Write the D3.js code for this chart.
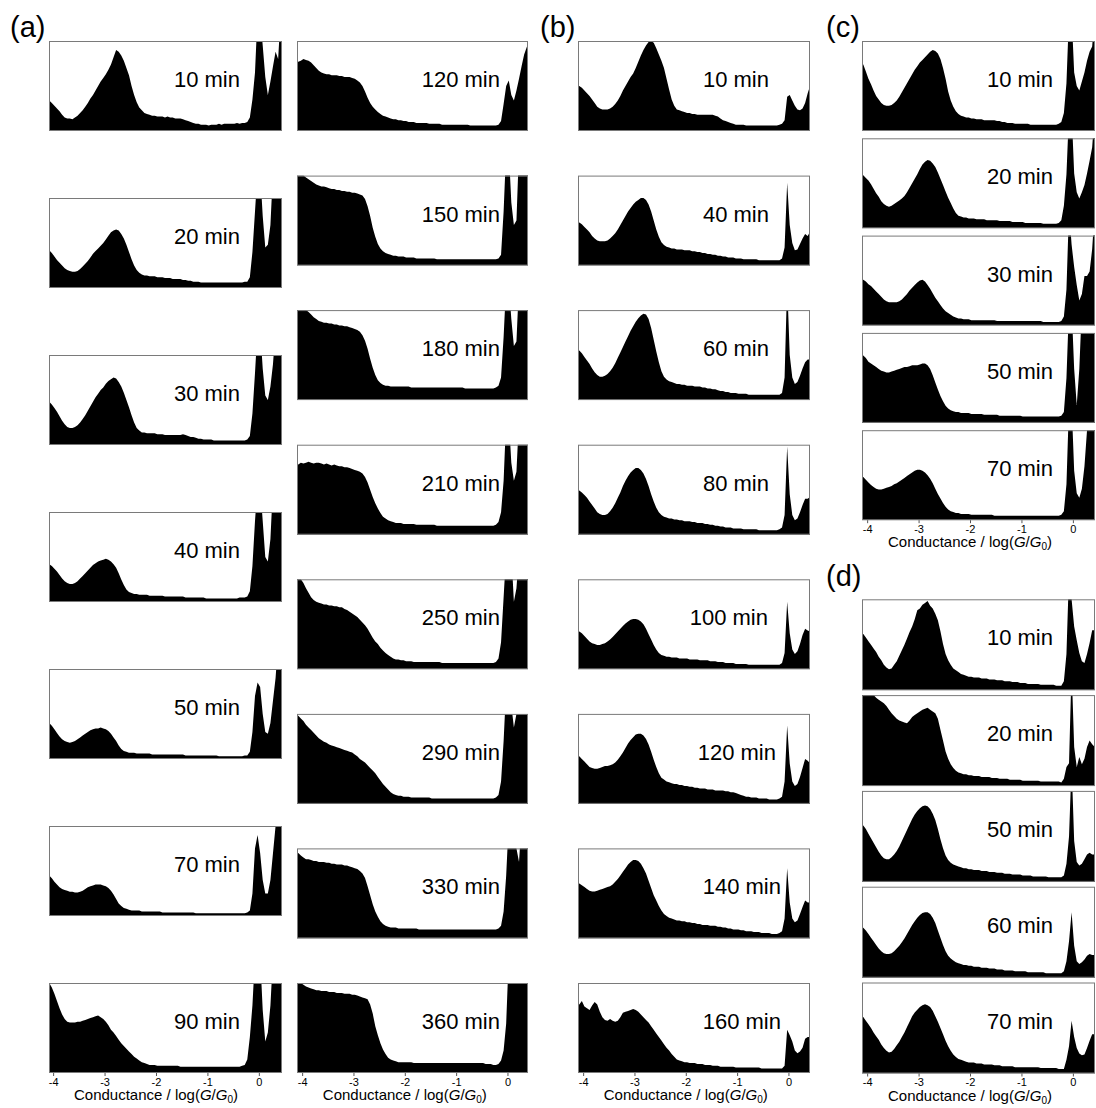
<!DOCTYPE html>
<html><head><meta charset="utf-8">
<script src="https://cdn.jsdelivr.net/npm/d3@7"></script>
<style>
body{margin:0;background:#fff}
svg{display:block}
text{font-family:"Liberation Sans",Arial,Helvetica,sans-serif;fill:#000}
</style>
</head><body>
<svg id="fig" width="1096" height="1108"></svg>
<script>
// Conductance histograms: bins of 0.05 in log(G/G0), first bin starting at -4.10.
// Values are counts scaled so that 100 reaches the top of a panel (larger values are clipped).
const binStart = -4.10, binWidth = 0.05;
const tickValues = [-4, -3, -2, -1, 0];

// (a) left column
const a10 = [34,31,28,25,22,18,15,14,14,13, 15,17,20,23,27,31,36,40,45,50, 55,59,63,68,74,82,90,88,84,78, 70,62,50,40,32,26,23,20,19,18, 17,17,16,16,16,15,16,15,15,14, 14,14,13,12,11,10,9,8,8,7, 7,7,6,7,7,7,8,7,8,8, 8,8,8,9,8,9,9,10,15,35, 65,130,130,95,60,40,55,72,88,80, 130];
const a20 = [42,39,35,31,28,25,22,20,19,18, 18,19,21,24,27,30,34,38,41,44, 47,50,54,58,62,64,65,64,60,55, 48,40,32,25,20,17,15,14,14,13, 13,13,12,12,12,11,11,11,10,10, 10,10,9,9,8,8,7,7,7,6, 6,6,6,6,6,6,6,6,6,6, 6,6,6,6,6,6,7,7,12,40, 85,130,130,80,45,48,70,130,110,130, 130];
const a30 = [48,45,41,37,32,27,23,20,19,19, 20,22,25,29,33,38,43,48,53,57, 61,64,68,71,73,75,74,70,65,58, 50,42,33,25,19,16,14,14,13,13, 13,13,12,12,12,11,11,11,11,11, 11,11,12,11,10,9,9,8,7,7, 6,6,6,6,5,5,5,5,5,5, 5,5,5,5,5,5,5,6,10,35, 80,130,130,85,55,50,65,90,130,130, 130];
const a40 = [42,40,37,34,30,26,23,21,20,20, 21,23,26,29,32,35,38,41,43,45, 46,47,48,47,45,42,38,32,25,19, 14,11,10,9,9,8,8,8,8,7, 7,7,7,7,7,6,6,6,6,6, 6,6,6,5,5,5,5,5,5,5, 5,4,4,4,4,4,4,4,4,4, 4,4,4,4,5,5,5,6,12,40, 90,130,130,90,50,45,70,130,100,130, 130];
const a50 = [40,37,33,29,25,22,20,19,18,19, 20,22,24,26,28,30,32,33,34,34, 35,34,33,31,28,24,20,15,11,9, 8,7,7,7,6,6,6,6,6,6, 5,5,5,5,5,5,5,5,5,5, 5,5,5,4,4,4,4,4,4,4, 4,4,4,4,4,4,3,3,3,3, 3,3,3,3,3,3,4,4,8,30, 70,85,80,50,30,28,40,65,90,130, 130];
const a70 = [45,42,38,35,32,30,29,28,27,27, 26,26,27,28,30,32,33,34,35,35, 35,34,33,31,28,24,19,14,11,9, 8,7,6,6,6,6,5,5,5,5, 5,5,5,5,4,4,4,4,4,4, 4,4,4,4,4,4,4,3,3,3, 3,3,3,3,3,3,3,3,3,3, 3,3,3,3,3,3,3,4,6,25, 75,90,70,40,25,25,40,70,100,130, 130];
const a90 = [100,95,88,80,72,65,60,57,56,56, 56,57,57,58,59,60,61,62,63,64, 62,60,57,53,48,45,41,37,33,30, 27,24,21,18,16,14,12,11,10,9, 9,9,8,8,8,8,8,8,8,8, 8,7,7,7,7,7,7,7,7,7, 7,7,7,7,7,7,7,7,7,7, 7,7,7,7,7,8,9,15,40,75, 130,130,130,70,35,45,75,130,130,130, 130];

// (a) right column
const a120 = [77,78,80,79,78,76,73,70,67,65, 64,63,63,62,62,62,61,61,60,60, 60,59,58,56,54,50,44,37,31,27, 24,21,19,17,16,15,14,13,13,12, 12,11,11,10,10,10,9,9,9,9, 9,8,8,8,8,8,7,7,7,7, 7,7,7,7,7,7,7,6,6,6, 6,6,6,6,6,6,6,6,7,11, 30,50,56,40,34,45,58,72,85,93, 100];
const a150 = [100,100,100,98,96,94,92,90,89,88, 88,87,86,85,85,84,84,83,83,82, 82,81,81,80,79,78,74,66,55,42, 32,24,19,16,14,13,12,11,11,10, 10,10,9,9,9,9,8,8,8,8, 8,8,8,8,7,7,7,7,7,7, 7,7,7,7,7,7,7,7,7,7, 7,7,7,7,7,7,7,7,8,12, 60,130,130,70,45,50,130,130,130,130, 130];
const a180 = [100,100,100,100,98,95,92,90,88,87, 86,86,85,85,84,84,83,83,82,82, 81,80,79,78,76,72,66,57,46,36, 28,22,19,17,16,16,15,15,15,15, 15,15,15,15,14,14,14,14,14,14, 14,14,14,14,14,14,14,14,14,14, 14,14,14,14,14,13,13,13,13,13, 13,13,13,13,13,13,13,14,16,25, 70,130,130,90,60,65,130,130,130,130, 130];
const a210 = [78,80,79,80,81,80,79,80,80,79, 78,79,78,77,78,77,76,76,75,75, 74,73,72,71,70,68,64,58,50,42, 35,29,24,20,18,16,15,14,13,13, 13,12,12,12,12,12,11,11,11,11, 11,11,11,11,10,10,10,10,10,10, 10,10,10,10,10,10,10,10,10,10, 10,10,10,10,10,10,10,11,14,25, 60,130,130,80,60,70,130,130,130,130, 130];
const a250 = [100,100,96,90,85,80,77,75,74,73, 72,72,71,71,70,70,69,69,67,66, 64,62,60,58,55,52,49,45,40,35, 31,28,24,21,18,16,14,12,11,11, 10,10,9,9,9,8,8,8,8,8, 8,8,8,8,8,8,7,7,7,7, 7,7,7,7,7,7,7,7,7,7, 7,7,7,7,7,7,7,8,12,30, 80,130,130,130,75,90,130,130,130,130, 130];
const a290 = [98,95,92,88,85,82,79,76,73,71, 69,68,66,65,64,63,62,61,60,59, 58,57,55,53,50,48,46,43,40,37, 34,30,26,22,19,16,13,11,10,9, 9,8,8,8,7,7,7,7,7,7, 7,7,6,6,6,6,6,6,6,6, 6,6,6,6,6,6,6,6,6,6, 6,6,6,6,6,6,6,7,10,25, 70,130,130,110,85,100,130,130,130,130, 130];
const a330 = [95,92,90,88,88,87,86,86,85,85, 85,84,84,83,83,82,82,82,81,81, 80,79,78,77,75,72,67,58,48,38, 30,24,19,16,14,13,12,12,12,11, 11,11,11,11,11,11,11,10,10,10, 10,10,10,10,10,10,10,10,10,10, 10,10,10,10,10,10,10,10,10,10, 10,10,10,10,10,10,10,10,11,14, 30,70,130,130,130,100,85,130,130,130, 130];
const a360 = [100,100,98,96,95,94,93,92,92,91, 91,91,90,90,90,89,89,89,88,88, 88,87,87,86,85,84,83,82,76,66, 52,42,33,26,21,17,15,14,13,12, 12,12,12,12,12,11,11,11,11,11, 11,11,11,11,11,11,11,11,11,11, 11,11,11,11,11,11,11,11,11,11, 11,11,11,10,10,10,9,9,10,14, 25,55,130,130,130,130,130,130,115,130, 130];

// (b)
const b10 = [50,48,45,42,39,35,31,27,25,24, 24,24,25,27,30,34,39,45,50,55, 60,64,70,77,84,90,95,99,100,98, 92,85,78,70,58,46,35,28,24,23, 22,21,20,20,19,19,18,18,18,18, 18,18,18,17,16,14,12,11,10,9, 8,7,7,7,7,6,6,6,6,6, 6,6,6,6,6,6,6,6,7,8, 12,38,40,34,28,24,23,25,31,42, 51];
const b40 = [48,46,43,40,37,33,30,28,27,27, 27,28,30,33,36,40,45,50,55,60, 64,68,71,73,75,75,73,68,60,50, 40,32,26,23,21,20,19,19,18,18, 18,17,17,17,16,16,15,15,14,14, 13,13,12,12,11,11,10,10,9,9, 9,8,8,8,7,7,7,7,7,7, 6,6,6,6,6,6,6,6,6,8, 20,92,45,25,17,18,24,30,35,33, 38];
const b60 = [55,52,48,44,40,35,31,28,26,26, 27,29,32,36,41,47,53,59,65,71, 77,82,87,91,94,96,95,90,80,67, 54,42,32,26,23,21,20,19,18,18, 17,17,16,16,16,15,15,15,14,14, 13,13,12,12,11,10,10,9,9,8, 8,8,7,7,7,7,6,6,6,6, 6,6,6,6,6,6,6,6,6,8, 25,130,50,25,18,20,27,35,42,45, 45];
const b80 = [49,47,44,41,37,33,29,25,23,22, 22,23,26,30,35,41,47,54,60,65, 69,72,74,74,72,68,62,54,45,37, 30,25,22,20,19,18,18,17,17,16, 16,15,15,15,14,14,13,13,13,12, 12,11,11,10,10,9,9,8,8,8, 7,7,7,7,6,6,6,6,6,6, 5,5,5,5,5,5,5,5,6,8, 22,98,45,22,16,18,25,33,40,40, 42];
const b100 = [42,40,37,34,31,29,28,27,27,28, 29,31,33,36,39,42,45,48,51,53, 55,56,56,55,53,50,45,39,33,27, 22,18,16,15,14,14,13,13,13,12, 12,12,12,11,11,11,11,10,10,10, 10,9,9,9,8,8,8,7,7,7, 7,6,6,6,6,6,5,5,5,5, 5,5,5,5,5,5,5,5,5,7, 18,75,40,22,17,20,28,38,45,43, 42];
const b120 = [53,50,47,44,41,40,39,39,40,41, 42,42,43,44,46,49,53,57,62,67, 71,74,77,78,78,76,72,66,58,49, 41,34,29,27,25,24,23,22,22,21, 21,20,20,19,19,18,18,17,17,17, 16,16,16,15,15,15,15,14,14,13, 13,12,11,10,9,8,8,7,7,7, 6,6,6,6,5,5,5,5,6,8, 25,87,45,25,20,22,30,40,50,48, 45];
const b140 = [61,59,57,55,53,52,52,53,54,55, 56,57,58,60,63,66,70,74,78,82, 85,87,87,86,83,78,72,64,56,48, 42,36,31,27,25,23,22,21,20,20, 19,19,18,18,17,17,16,16,15,15, 15,14,14,14,13,13,12,12,11,11, 10,10,10,9,9,8,8,8,7,7, 7,6,6,6,6,5,5,5,6,8, 22,78,40,22,18,20,27,35,42,40, 40];
const b160 = [76,80,74,72,70,75,79,76,68,62, 59,58,60,58,57,58,62,67,68,69, 70,71,70,68,65,62,59,56,52,48, 44,40,36,32,28,25,21,18,15,14, 13,12,12,11,11,11,10,10,10,9, 9,9,8,8,8,7,7,7,7,7, 7,6,6,6,6,6,6,6,6,6, 6,5,5,5,5,5,5,5,5,5, 8,48,42,35,25,22,24,28,38,40, 40];

// (c)
const c10 = [74,66,58,52,45,39,35,31,29,28, 28,29,31,34,38,43,48,53,58,63, 68,72,76,79,82,85,88,90,89,86, 80,70,58,44,34,27,22,19,17,16, 15,15,14,14,13,13,13,12,12,12, 12,12,11,11,10,10,9,9,9,8, 8,8,8,8,8,7,7,7,7,7, 7,7,7,7,7,7,8,10,20,53, 130,130,65,50,45,55,65,78,88,94, 130];
const c20 = [59,56,53,49,44,39,35,30,27,25, 24,25,27,29,31,33,36,40,45,50, 55,60,66,71,74,76,75,72,68,62, 55,48,41,34,28,22,17,14,13,12, 12,11,11,11,10,10,10,10,9,9, 9,9,9,8,8,8,8,8,7,7, 7,7,7,6,6,6,6,6,6,6, 5,5,5,5,5,5,6,9,25,60, 130,130,61,40,33,40,48,61,75,90, 130];
const c30 = [51,49,46,44,41,38,35,32,29,27, 26,26,26,26,27,29,32,35,39,42, 45,48,50,51,49,45,41,36,31,27, 23,19,16,14,12,10,9,8,8,7, 7,7,6,6,6,6,6,6,6,6, 6,6,5,5,5,5,5,5,5,5, 5,5,5,5,5,5,5,5,5,5, 4,4,4,4,4,4,4,5,10,40, 130,90,65,45,28,35,55,55,60,85, 130];
const c50 = [75,72,68,66,64,62,60,58,57,56, 56,57,58,59,60,61,62,62,63,64, 64,64,65,66,66,64,60,53,45,37, 30,24,19,16,14,13,12,12,11,11, 11,11,10,10,10,10,10,9,9,9, 9,9,9,8,8,8,8,8,8,8, 8,8,7,7,7,7,7,7,7,7, 7,7,7,7,7,7,7,8,12,50, 130,130,60,20,60,130,130,130,130,130, 130];
const c70 = [48,45,42,39,37,35,34,34,35,36, 37,38,40,41,43,45,47,49,51,53, 55,56,56,55,53,50,46,41,35,29, 24,19,15,12,10,9,8,8,7,7, 7,7,6,6,6,6,6,6,6,6, 6,5,5,5,5,5,5,5,5,5, 5,5,5,5,5,5,5,5,5,5, 5,5,5,5,5,5,5,6,10,40, 130,130,55,30,25,35,60,100,130,130, 130];

// (d)
const d10 = [62,58,54,50,46,42,37,33,28,25, 23,24,28,32,38,44,50,57,64,70, 78,88,90,94,96,98,93,90,84,77, 65,51,40,33,28,24,22,20,18,17, 16,15,15,14,14,14,13,13,13,12, 12,12,11,11,11,10,10,10,9,9, 9,8,8,8,7,7,7,7,7,6, 6,6,6,6,6,5,5,5,10,40, 130,100,70,55,41,32,30,40,52,66, 66];
const d20 = [130,130,120,110,100,97,95,93,91,88, 84,80,77,74,72,71,70,69,72,76, 78,80,82,84,85,86,84,82,80,74, 62,50,38,30,24,20,17,15,14,13, 13,12,12,11,11,11,10,10,10,10, 9,9,9,8,8,8,8,7,7,7, 7,7,6,6,6,6,6,6,6,5, 5,5,5,5,5,5,5,4,8,21, 25,130,43,21,32,24,30,43,50,46, 43];
const d50 = [62,58,53,48,43,38,33,29,26,25, 25,27,30,34,39,45,51,57,63,69, 74,78,81,83,84,83,80,75,68,58, 47,37,29,24,21,19,18,17,16,15, 15,14,14,13,13,13,12,12,12,11, 11,11,10,10,10,9,9,9,8,8, 8,8,7,7,7,7,6,6,6,6, 6,6,5,5,5,5,5,5,7,20, 50,130,45,22,18,20,25,30,32,30, 30];
const d60 = [55,52,48,44,40,36,32,29,27,26, 26,27,29,32,35,39,43,48,53,58, 62,66,69,71,72,72,70,66,60,52, 44,36,29,24,21,19,17,16,15,14, 14,13,13,12,12,12,11,11,11,10, 10,10,9,9,9,8,8,8,8,7, 7,7,7,7,6,6,6,6,6,6, 6,5,5,5,5,5,5,5,7,18, 40,72,35,18,15,17,20,24,26,25, 25];
const d70 = [62,58,54,50,45,41,37,32,28,25, 23,24,27,31,35,40,45,51,57,63, 67,70,73,75,76,75,73,69,63,57, 50,43,36,30,25,21,18,16,15,14, 13,12,12,12,11,11,11,10,10,10, 10,9,9,9,8,8,8,8,8,7, 7,7,7,7,7,7,7,7,7,6, 6,6,6,6,6,6,5,5,5,15, 30,58,40,28,22,20,21,28,36,43, 43];

// Panel captions per column
const labelsA1 = ["10 min","20 min","30 min","40 min","50 min","70 min","90 min"];
const labelsA2 = ["120 min","150 min","180 min","210 min","250 min","290 min","330 min","360 min"];
const labelsB  = ["10 min","40 min","60 min","80 min","100 min","120 min","140 min","160 min"];
const labelsC  = ["10 min","20 min","30 min","50 min","70 min"];
const labelsD  = ["10 min","20 min","50 min","60 min","70 min"];

// Page layout of each column of panels
const columns = [
  {letter:"(a)", lx:10, ly:37, x:49, w:233, h:90, domain:[-4.08,0.45],
   tops:[41,198,355,512,669,826,983], labelRight:[240,240,240,240,240,240,240],
   data:[a10,a20,a30,a40,a50,a70,a90], labels:labelsA1},
  {letter:null, x:297, w:231, h:90, domain:[-4.10,0.40],
   tops:[41,175.6,310.1,444.7,579.3,713.9,848.4,983], labelRight:[500,500,500,500,500,500,500,500],
   data:[a120,a150,a180,a210,a250,a290,a330,a360], labels:labelsA2},
  {letter:"(b)", lx:540, ly:37, x:578, w:232, h:90, domain:[-4.10,0.42],
   tops:[41,175.6,310.1,444.7,579.3,713.9,848.4,983], labelRight:[769,769,769,769,768,776,781,781],
   data:[b10,b40,b60,b80,b100,b120,b140,b160], labels:labelsB},
  {letter:"(c)", lx:826, ly:37, x:862, w:233, h:90, domain:[-4.10,0.43],
   tops:[41,138.3,235.6,332.9,430.2], labelRight:[1053,1053,1053,1053,1053],
   data:[c10,c20,c30,c50,c70], labels:labelsC},
  {letter:"(d)", lx:826, ly:586, x:862, w:233, h:91, domain:[-4.10,0.43],
   tops:[599.3,695.1,790.9,886.7,982.5], labelRight:[1053,1053,1053,1053,1053],
   data:[d10,d20,d50,d60,d70], labels:labelsD}
];

const svg = d3.select("#fig");
const defs = svg.append("defs");
let clipId = 0;

columns.forEach(col => {
  if (col.letter) {
    svg.append("text").attr("x", col.lx).attr("y", col.ly)
      .attr("font-size", 29).text(col.letter);
  }
  const x = d3.scaleLinear().domain(col.domain).range([col.x, col.x + col.w]);
  col.data.forEach((vals, k) => {
    const top = col.tops[k], bottom = top + col.h;
    const y = d3.scaleLinear().domain([0, 100]).range([bottom, top]);
    const id = "clip" + (clipId++);
    defs.append("clipPath").attr("id", id).append("rect")
      .attr("x", col.x).attr("y", top).attr("width", col.w).attr("height", col.h);

    // filled outline through the bin centres, held flat to the outer bin edges
    const pts = vals.map((v, i) => ({e: binStart + (i + 0.5) * binWidth, v}));
    pts.unshift({e: binStart, v: vals[0]});
    pts.push({e: binStart + vals.length * binWidth, v: vals[vals.length - 1]});
    const area = d3.area()
      .x(d => x(d.e)).y0(y(0)).y1(d => y(d.v))
      .curve(d3.curveLinear);

    const g = svg.append("g");
    g.append("path").attr("d", area(pts)).attr("fill", "#000")
      .attr("clip-path", `url(#${id})`);
    g.append("rect").attr("x", col.x + 0.5).attr("y", top + 0.5)
      .attr("width", col.w - 1).attr("height", col.h - 1)
      .attr("fill", "none").attr("stroke", "#7a7a7a").attr("stroke-width", 1);

    g.append("text").attr("x", col.labelRight[k]).attr("y", top + 46)
      .attr("text-anchor", "end").attr("font-size", 22).text(col.labels[k]);

    // bottom panel of each column carries the conductance axis
    if (k === col.data.length - 1) {
      const ax = svg.append("g").attr("transform", `translate(0,${bottom})`)
        .call(d3.axisBottom(x).tickValues(tickValues).tickSize(3).tickPadding(2)
          .tickFormat(d => d < 0 ? "-" + Math.abs(d) : String(d)));
      ax.select(".domain").remove();
      ax.selectAll(".tick line").attr("stroke", "#555");
      ax.selectAll(".tick text").attr("font-size", 11)
        .attr("font-family", '"Liberation Sans",Arial,sans-serif').attr("fill", "#000");

      const t = svg.append("text").attr("x", x(-2)).attr("y", bottom + 27)
        .attr("text-anchor", "middle").attr("font-size", 15);
      t.append("tspan").text("Conductance / log(");
      t.append("tspan").attr("font-style", "italic").text("G");
      t.append("tspan").text("/");
      t.append("tspan").attr("font-style", "italic").text("G");
      t.append("tspan").attr("font-size", 10).attr("dy", 3).text("0");
      t.append("tspan").attr("dy", -3).text(")");
    }
  });
});
</script>
</body></html>
